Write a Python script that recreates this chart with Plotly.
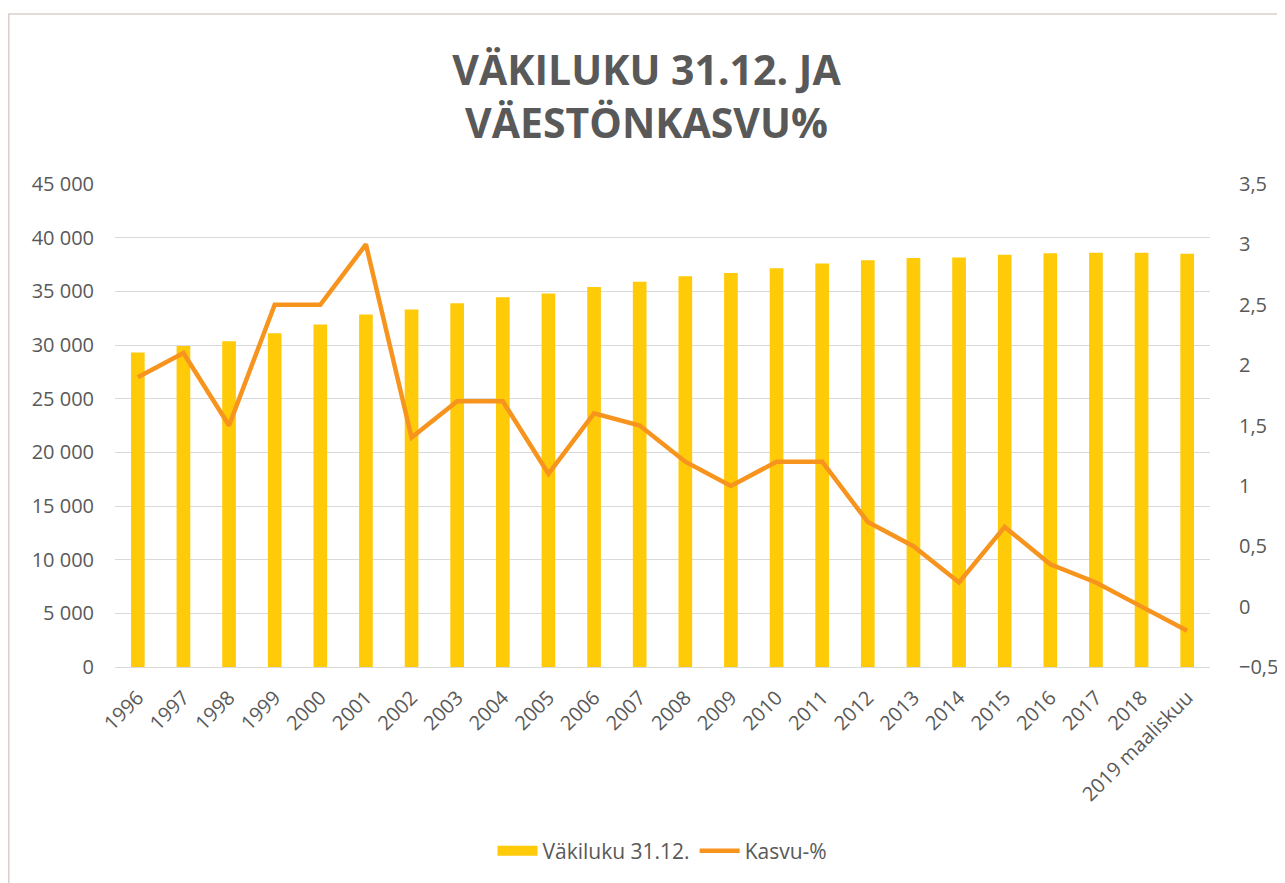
import plotly.graph_objects as go

years = ["1996", "1997", "1998", "1999", "2000", "2001", "2002", "2003", "2004", "2005",
         "2006", "2007", "2008", "2009", "2010", "2011", "2012", "2013", "2014", "2015",
         "2016", "2017", "2018", "2019 maaliskuu"]
vakiluku = [29300, 29900, 30350, 31100, 31900, 32850, 33300, 33900, 34450, 34800,
            35400, 35900, 36400, 36700, 37150, 37600, 37900, 38100, 38150, 38400,
            38550, 38600, 38600, 38500]
kasvu = [1.9, 2.1, 1.5, 2.5, 2.5, 3.0, 1.4, 1.7, 1.7, 1.1,
         1.6, 1.5, 1.2, 1.0, 1.2, 1.2, 0.7, 0.5, 0.2, 0.66,
         0.35, 0.2, 0.0, -0.2]

FONT = "Open Sans"
TXT = "#595959"
BAR_COLOR = "#FFCA08"
LINE_COLOR = "#F7941D"

fig = go.Figure()
fig.add_trace(go.Bar(x=years, y=vakiluku, name="Väkiluku 31.12.", showlegend=False,
                     legendgroup="v", marker=dict(color=BAR_COLOR, line=dict(width=0)),
                     yaxis="y"))
# legend entry drawn as a wide yellow block like the original
fig.add_trace(go.Scatter(x=[None], y=[None], name="Väkiluku 31.12.", mode="lines",
                         legendgroup="v", line=dict(color=BAR_COLOR, width=14), yaxis="y"))
fig.add_trace(go.Scatter(x=years, y=kasvu, name="Kasvu-%", mode="lines",
                         line=dict(color=LINE_COLOR, width=4.5), yaxis="y2"))

# page has an 8px body margin, so figure coordinates are shifted by -8
W, H = 1277, 875
L, R, T, B = 107, 1202, 176, 659

fig.update_layout(
    width=W, height=H,
    margin=dict(l=L, r=W - R, t=T, b=H - B, autoexpand=False),
    paper_bgcolor="white", plot_bgcolor="white",
    separators=", ",
    font=dict(family=FONT, size=20, color=TXT),
    title=dict(text="<b>VÄKILUKU 31.12. JA<br>VÄESTÖNKASVU%</b>",
               x=0.5, xanchor="center", y=1 - 77 / H, yanchor="middle",
               font=dict(family=FONT, size=41, color=TXT)),
    bargap=0.7,
    showlegend=True,
    legend=dict(orientation="h", x=0.5, xanchor="center", y=(B - 843) / (B - T),
                yanchor="middle", font=dict(size=21, color=TXT), traceorder="normal",
                itemwidth=40),
    xaxis=dict(tickangle=-45, showgrid=False, showline=False, ticks="",
               ticklabelstandoff=14, tickfont=dict(size=20, color=TXT)),
    yaxis=dict(range=[0, 45000], dtick=5000, tickformat=",d", showgrid=True,
               gridcolor="#D9D9D9", gridwidth=1.3, zeroline=True, zerolinecolor="#D9D9D9",
               zerolinewidth=1.3, ticks="", ticklabelstandoff=20,
               tickfont=dict(size=20, color=TXT)),
    yaxis2=dict(range=[-0.5, 3.5], dtick=0.5, overlaying="y", side="right",
                showgrid=False, zeroline=False, ticks="", ticklabelstandoff=28,
                tickfont=dict(size=20, color=TXT)),
)

fig.add_shape(type="rect", xref="paper", yref="paper",
              x0=(0.8 - L) / (R - L), x1=(1300 - L) / (R - L),
              y0=(B - 900) / (B - T), y1=(B - 6) / (B - T),
              line=dict(color="#D9CFCB", width=1.5), fillcolor="rgba(0,0,0,0)", layer="below")

fig.write_html("out.html")
